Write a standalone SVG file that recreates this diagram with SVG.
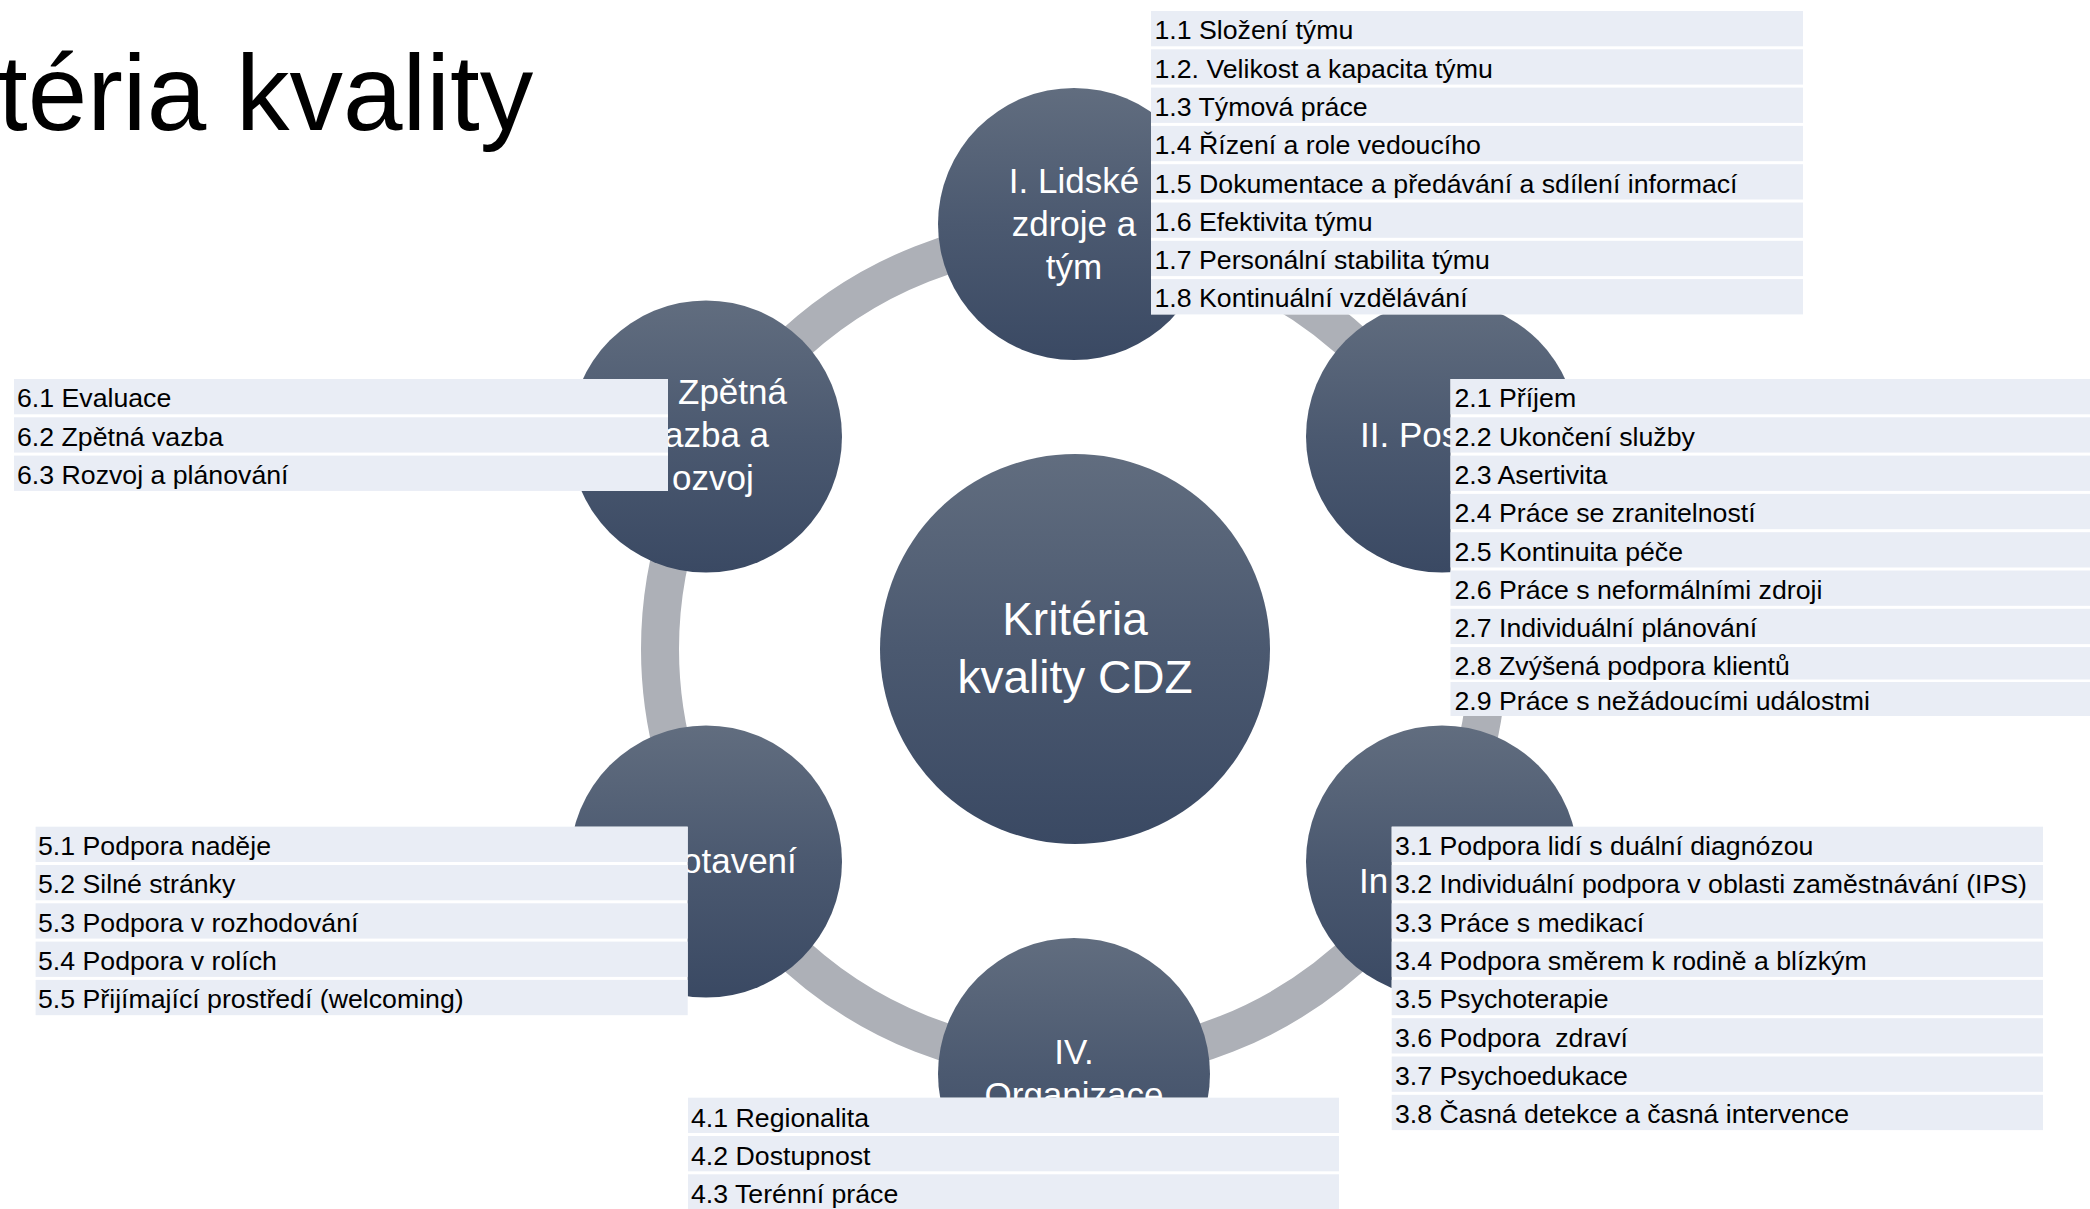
<svg xmlns="http://www.w3.org/2000/svg" width="2090" height="1209" viewBox="0 0 2090 1209">
<defs>
<linearGradient id="g" x1="0" y1="0" x2="0" y2="1">
<stop offset="0" stop-color="#616d7f"/>
<stop offset="0.5" stop-color="#4b5970"/>
<stop offset="1" stop-color="#3a4963"/>
</linearGradient>
<style>
text{font-family:"Liberation Sans",Arial,sans-serif}
.node{fill:url(#g)}
.lbl{fill:#ffffff;font-size:35px;text-anchor:middle}
.cl{fill:#ffffff;font-size:46px;text-anchor:middle}
.bg{fill:#ffffff}
.row{fill:#e9edf5}
.it{fill:#000000;font-size:26.7px}
.ring{fill:none;stroke:#adb0b7;stroke-width:38}
</style>
</defs>
<rect width="2090" height="1209" fill="#ffffff"/>
<text x="-2" y="130" font-size="107" fill="#000000">téria kvality</text>
<g id="connectors">
<circle class="ring" cx="1074" cy="649" r="414"/>
</g>
<g id="center">
<circle class="node" cx="1075" cy="649" r="195"/>
<text class="cl" x="1075" y="635">Kritéria</text>
<text class="cl" x="1075" y="693">kvality CDZ</text>
</g>
<g id="node-1">
<circle class="node" cx="1074" cy="224" r="136"/>
<text class="lbl" x="1074" y="193">I. Lidské</text>
<text class="lbl" x="1074" y="236">zdroje a</text>
<text class="lbl" x="1074" y="279">tým</text>
</g>
<g id="node-2">
<circle class="node" cx="1442" cy="436.5" r="136"/>
<text class="lbl" x="1360" y="447" style="text-anchor:start">II. Pos</text>
</g>
<g id="node-3">
<circle class="node" cx="1442" cy="861.5" r="136"/>
<text class="lbl" x="1359" y="893" style="text-anchor:start">In</text>
</g>
<g id="node-4">
<circle class="node" cx="1074" cy="1074" r="136"/>
<text class="lbl" x="1074" y="1064">IV.</text>
<text class="lbl" x="1074" y="1107">Organizace</text>
</g>
<g id="node-5">
<circle class="node" cx="706" cy="861.5" r="136"/>
<text class="lbl" x="682" y="873" style="text-anchor:start">otavení</text>
</g>
<g id="node-6">
<circle class="node" cx="706" cy="436.5" r="136"/>
<text class="lbl" x="678" y="404" style="text-anchor:start">Zpětná</text>
<text class="lbl" x="664" y="447" style="text-anchor:start">azba a</text>
<text class="lbl" x="672" y="490" style="text-anchor:start">ozvoj</text>
</g>
<g id="list-1">
<rect class="bg" x="1151" y="11" width="652" height="303.4"/>
<rect class="row" x="1151" y="11" width="652" height="35.3"/>
<rect class="row" x="1151" y="49.3" width="652" height="35.3"/>
<rect class="row" x="1151" y="87.6" width="652" height="35.3"/>
<rect class="row" x="1151" y="125.9" width="652" height="35.3"/>
<rect class="row" x="1151" y="164.2" width="652" height="35.3"/>
<rect class="row" x="1151" y="202.5" width="652" height="35.3"/>
<rect class="row" x="1151" y="240.8" width="652" height="35.3"/>
<rect class="row" x="1151" y="279.1" width="652" height="35.3"/>
<text class="it" x="1154.5" y="39.3">1.1 Složení týmu</text>
<text class="it" x="1154.5" y="77.6">1.2. Velikost a kapacita týmu</text>
<text class="it" x="1154.5" y="115.9">1.3 Týmová práce</text>
<text class="it" x="1154.5" y="154.2">1.4 Řízení a role vedoucího</text>
<text class="it" x="1154.5" y="192.5">1.5 Dokumentace a předávání a sdílení informací</text>
<text class="it" x="1154.5" y="230.8">1.6 Efektivita týmu</text>
<text class="it" x="1154.5" y="269.1">1.7 Personální stabilita týmu</text>
<text class="it" x="1154.5" y="307.4">1.8 Kontinuální vzdělávání</text>
</g>
<g id="list-2">
<rect class="bg" x="1450.5" y="379" width="640" height="337"/>
<rect class="row" x="1450.5" y="379" width="640" height="35.3"/>
<rect class="row" x="1450.5" y="417.3" width="640" height="35.3"/>
<rect class="row" x="1450.5" y="455.6" width="640" height="35.3"/>
<rect class="row" x="1450.5" y="493.9" width="640" height="35.3"/>
<rect class="row" x="1450.5" y="532.2" width="640" height="35.3"/>
<rect class="row" x="1450.5" y="570.5" width="640" height="35.3"/>
<rect class="row" x="1450.5" y="608.8" width="640" height="35.3"/>
<rect class="row" x="1450.5" y="647.1" width="640" height="32.4"/>
<rect class="row" x="1450.5" y="682" width="640" height="34"/>
<text class="it" x="1454.5" y="407.3">2.1 Příjem</text>
<text class="it" x="1454.5" y="445.6">2.2 Ukončení služby</text>
<text class="it" x="1454.5" y="483.9">2.3 Asertivita</text>
<text class="it" x="1454.5" y="522.2">2.4 Práce se zranitelností</text>
<text class="it" x="1454.5" y="560.5">2.5 Kontinuita péče</text>
<text class="it" x="1454.5" y="598.8">2.6 Práce s neformálními zdroji</text>
<text class="it" x="1454.5" y="637.1">2.7 Individuální plánování</text>
<text class="it" x="1454.5" y="675">2.8 Zvýšená podpora klientů</text>
<text class="it" x="1454.5" y="709.5">2.9 Práce s nežádoucími událostmi</text>
</g>
<g id="list-3">
<rect class="bg" x="1391.7" y="826.7" width="651.3" height="303.4"/>
<rect class="row" x="1391.7" y="826.7" width="651.3" height="35.3"/>
<rect class="row" x="1391.7" y="865" width="651.3" height="35.3"/>
<rect class="row" x="1391.7" y="903.3" width="651.3" height="35.3"/>
<rect class="row" x="1391.7" y="941.6" width="651.3" height="35.3"/>
<rect class="row" x="1391.7" y="979.9" width="651.3" height="35.3"/>
<rect class="row" x="1391.7" y="1018.2" width="651.3" height="35.3"/>
<rect class="row" x="1391.7" y="1056.5" width="651.3" height="35.3"/>
<rect class="row" x="1391.7" y="1094.8" width="651.3" height="35.3"/>
<text class="it" x="1395" y="855">3.1 Podpora lidí s duální diagnózou</text>
<text class="it" x="1395" y="893.3">3.2 Individuální podpora v oblasti zaměstnávání (IPS)</text>
<text class="it" x="1395" y="931.6">3.3 Práce s medikací</text>
<text class="it" x="1395" y="969.9">3.4 Podpora směrem k rodině a blízkým</text>
<text class="it" x="1395" y="1008.2">3.5 Psychoterapie</text>
<text class="it" x="1395" y="1046.5" xml:space="preserve">3.6 Podpora  zdraví</text>
<text class="it" x="1395" y="1084.8">3.7 Psychoedukace</text>
<text class="it" x="1395" y="1123.1">3.8 Časná detekce a časná intervence</text>
</g>
<g id="list-4">
<rect class="bg" x="688" y="1097.7" width="651" height="112"/>
<rect class="row" x="688" y="1097.7" width="651" height="35.3"/>
<rect class="row" x="688" y="1136" width="651" height="35.3"/>
<rect class="row" x="688" y="1174.3" width="651" height="36"/>
<text class="it" x="691" y="1126.5">4.1 Regionalita</text>
<text class="it" x="691" y="1164.8">4.2 Dostupnost</text>
<text class="it" x="691" y="1203.1">4.3 Terénní práce</text>
</g>
<g id="list-5">
<rect class="bg" x="35.6" y="826.7" width="652.1" height="188.5"/>
<rect class="row" x="35.6" y="826.7" width="652.1" height="35.3"/>
<rect class="row" x="35.6" y="865" width="652.1" height="35.3"/>
<rect class="row" x="35.6" y="903.3" width="652.1" height="35.3"/>
<rect class="row" x="35.6" y="941.6" width="652.1" height="35.3"/>
<rect class="row" x="35.6" y="979.9" width="652.1" height="35.3"/>
<text class="it" x="38" y="855">5.1 Podpora naděje</text>
<text class="it" x="38" y="893.3">5.2 Silné stránky</text>
<text class="it" x="38" y="931.6">5.3 Podpora v rozhodování</text>
<text class="it" x="38" y="969.9">5.4 Podpora v rolích</text>
<text class="it" x="38" y="1008.2">5.5 Přijímající prostředí (welcoming)</text>
</g>
<g id="list-6">
<rect class="bg" x="14" y="379" width="654" height="111.9"/>
<rect class="row" x="14" y="379" width="654" height="35.3"/>
<rect class="row" x="14" y="417.3" width="654" height="35.3"/>
<rect class="row" x="14" y="455.6" width="654" height="35.3"/>
<text class="it" x="17" y="407.3">6.1 Evaluace</text>
<text class="it" x="17" y="445.6">6.2 Zpětná vazba</text>
<text class="it" x="17" y="483.9">6.3 Rozvoj a plánování</text>
</g>
</svg>
